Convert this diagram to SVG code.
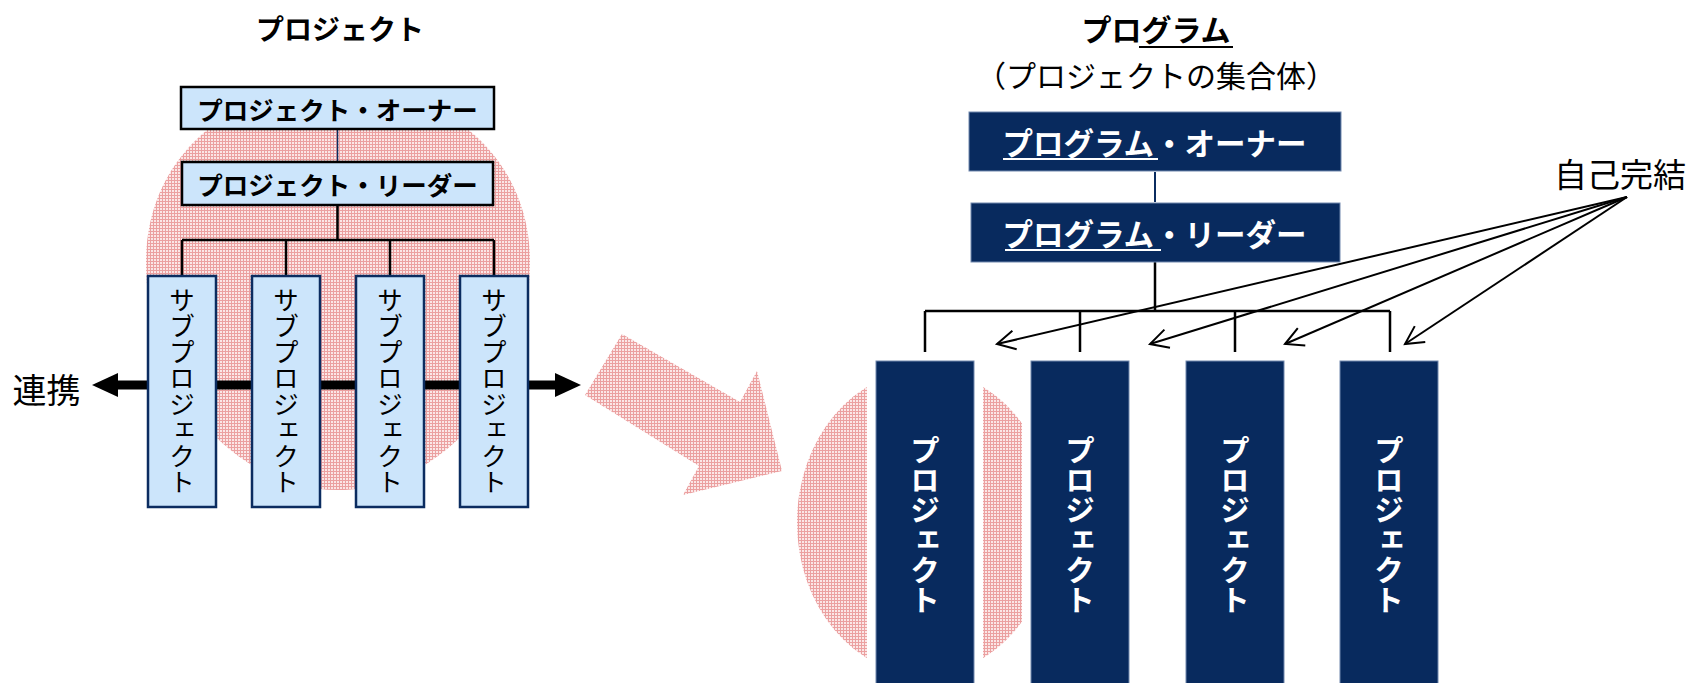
<svg xmlns="http://www.w3.org/2000/svg" width="1699" height="683" viewBox="0 0 1699 683">
<defs>
<pattern id="grid" width="3" height="3" patternUnits="userSpaceOnUse">
<rect width="3" height="3" fill="#FBE6E6"/>
<path d="M0,0.5H3M0.5,0V3" stroke="#EBA0A0" stroke-width="1"/>
</pattern>
<marker id="blk" markerUnits="userSpaceOnUse" markerWidth="27" markerHeight="26" refX="0" refY="13" orient="auto-start-reverse" overflow="visible">
<path d="M0,1 L26,13 L0,25 z" fill="#000"/>
</marker>
<marker id="open" markerUnits="userSpaceOnUse" markerWidth="22" markerHeight="22" refX="19" refY="10" orient="auto" overflow="visible">
<path d="M1,0.5 L19,10 L1,19.5" fill="none" stroke="#000" stroke-width="2"/>
</marker>
<style>
text{font-family:"Noto Sans CJK JP","Noto Sans CJK SC",sans-serif;dominant-baseline:central;text-anchor:middle;fill:#000;}
.b{font-weight:bold;}
.w{fill:#fff;}
.vt{writing-mode:vertical-rl;}
.pink{fill:url(#grid);}
.lbox{fill:#CCE5FB;stroke:#000;stroke-width:2.5;}
.sbox{fill:#CCE5FB;stroke:#0B2C60;stroke-width:2.5;}
.nbox{fill:#082A5E;stroke:#7088AE;stroke-width:1;}
.halo{fill:#fff;}
.ln{fill:none;stroke:#000;stroke-width:2.5;}
.thin{fill:none;stroke:#0B2C60;stroke-width:1.5;}
.ul{stroke-width:2;}
</style>
</defs>
<rect width="1699" height="683" fill="#fff"/>

<g id="backgrounds">
<path class="pink" d="M338,86 C444,86 530,156 530,262 C530,390 440,490 338,490 C236,490 146,390 146,262 C146,156 232,86 338,86 Z"/>
<polygon class="pink" points="622,334 740,402 757,371 782,471 683,495 699,466 585,395"/>
<ellipse class="pink" cx="925" cy="522.5" rx="128" ry="152"/>
</g>

<g id="connectors">
<line class="thin" x1="337.5" y1="129" x2="337.5" y2="162"/>
<path class="ln" d="M337.5,205 V240 M182,240 H494 M182,240 V276 M286,240 V276 M390,240 V276 M494,240 V276"/>
<line x1="118" y1="385" x2="555" y2="385" stroke="#000" stroke-width="9" marker-start="url(#blk)" marker-end="url(#blk)"/>
<line x1="1155" y1="172" x2="1155" y2="202" stroke="#0B2C60" stroke-width="2"/>
<path class="ln" d="M1155,262 V311 M925,311 H1390 M925,311 V361 M1080,311 V361 M1235,311 V361 M1390,311 V361"/>
<g stroke="#000" stroke-width="2" marker-end="url(#open)">
<line x1="1627" y1="197" x2="997" y2="344"/>
<line x1="1627" y1="197" x2="1150" y2="344"/>
<line x1="1627" y1="197" x2="1285" y2="344"/>
<line x1="1627" y1="197" x2="1405" y2="344"/>
</g>
</g>

<g id="title-project"><text class="b" x="340" y="28" font-size="28">プロジェクト</text></g>
<g id="project-owner">
<rect class="lbox" x="181" y="87" width="313" height="42"/>
<text class="b" x="337.5" y="108.5" font-size="25.5">プロジェクト・オーナー</text>
</g>
<g id="project-leader">
<rect class="lbox" x="182" y="162" width="311" height="43"/>
<text class="b" x="337.5" y="183.5" font-size="25.5">プロジェクト・リーダー</text>
</g>
<g id="subproject-1"><rect class="sbox" x="148" y="276" width="68" height="231"/><text class="vt" x="182" y="391.5" font-size="26">サブプロジェクト</text></g>
<g id="subproject-2"><rect class="sbox" x="252" y="276" width="68" height="231"/><text class="vt" x="286" y="391.5" font-size="26">サブプロジェクト</text></g>
<g id="subproject-3"><rect class="sbox" x="356" y="276" width="68" height="231"/><text class="vt" x="390" y="391.5" font-size="26">サブプロジェクト</text></g>
<g id="subproject-4"><rect class="sbox" x="460" y="276" width="68" height="231"/><text class="vt" x="494" y="391.5" font-size="26">サブプロジェクト</text></g>
<g id="label-renkei"><text x="46.5" y="388" font-size="34">連携</text></g>

<g id="title-program">
<text class="b" x="1156" y="28" font-size="30">プログラム</text>
<line class="ul" x1="1139" y1="47" x2="1233" y2="47" stroke="#000"/>
<text x="1156" y="73.5" font-size="30">（プロジェクトの集合体）</text>
</g>
<g id="program-owner">
<rect class="nbox" x="969" y="112" width="372" height="59"/>
<text class="b w" x="1154.5" y="141.5" font-size="30.5">プログラム・オーナー</text>
<line class="ul" x1="1003" y1="159" x2="1158" y2="159" stroke="#fff"/>
</g>
<g id="program-leader">
<rect class="nbox" x="971" y="203" width="369" height="59"/>
<text class="b w" x="1154.5" y="232.5" font-size="30.5">プログラム・リーダー</text>
<line class="ul" x1="1005" y1="250" x2="1161" y2="250" stroke="#fff"/>
</g>
<g id="project-1"><rect class="halo" x="867" y="352" width="116" height="340"/><rect class="nbox" x="876" y="361" width="98" height="330"/><text class="b w vt" x="925" y="524.5" font-size="30">プロジェクト</text></g>
<g id="project-2"><rect class="halo" x="1022" y="352" width="116" height="340"/><rect class="nbox" x="1031" y="361" width="98" height="330"/><text class="b w vt" x="1080" y="524.5" font-size="30">プロジェクト</text></g>
<g id="project-3"><rect class="halo" x="1177" y="352" width="116" height="340"/><rect class="nbox" x="1186" y="361" width="98" height="330"/><text class="b w vt" x="1235" y="524.5" font-size="30">プロジェクト</text></g>
<g id="project-4"><rect class="halo" x="1331" y="352" width="116" height="340"/><rect class="nbox" x="1340" y="361" width="98" height="330"/><text class="b w vt" x="1389" y="524.5" font-size="30">プロジェクト</text></g>
<g id="label-jiko"><text x="1620" y="172.5" font-size="33">自己完結</text></g>
</svg>
